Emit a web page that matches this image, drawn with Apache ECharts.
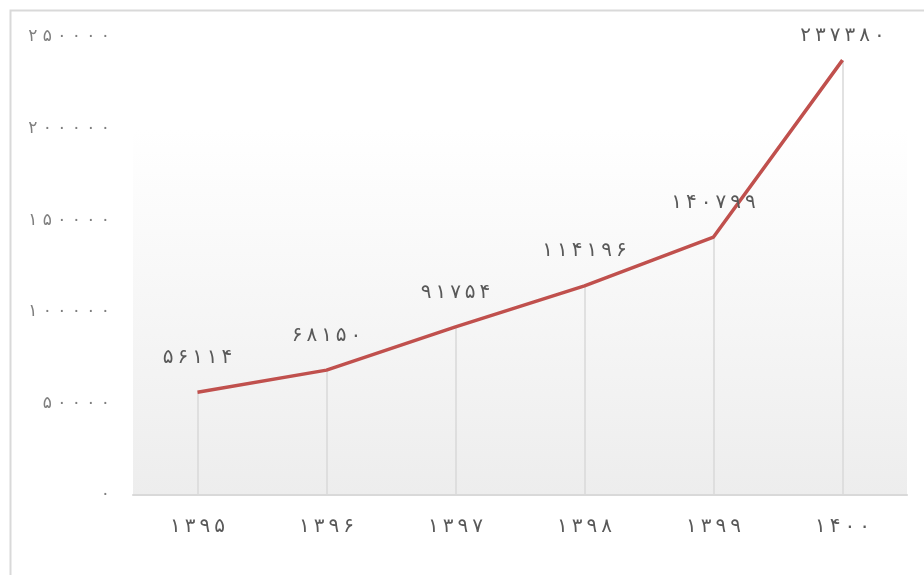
<!DOCTYPE html>
<html><head><meta charset="utf-8">
<script src="https://cdn.jsdelivr.net/npm/echarts@6/dist/echarts.min.js"></script>
<style>html,body{margin:0;padding:0;background:#fff}#c{width:924px;height:575px}</style>
</head><body><div id="c"></div>
<script>
var categories = ['۱۳۹۵','۱۳۹۶','۱۳۹۷','۱۳۹۸','۱۳۹۹','۱۴۰۰'];
var values = [56114, 68150, 91754, 114196, 140799, 237380];
var yMin = 0, yMax = 250000, yStep = 50000;

function fa(n){ return String(n).replace(/[0-9]/g, function(d){ return '۰۱۲۳۴۵۶۷۸۹'[+d]; }); }

var chart = echarts.init(document.getElementById('c'), null, {renderer:'canvas'});
var drops = values.map(function(v,i){ return [{coord:[i, v]},{coord:[i, 0]}]; });
// labels near the top of the plot are kept inside the chart frame
var seriesData = values.map(function(v){ return v > yMax * 0.9 ? {value:v, label:{distance:14}} : v; });
chart.setOption({
  animation:false,
  graphic:[{type:'polyline', shape:{points:[[10.5,575],[10.5,10.5],[924,10.5]]}, style:{stroke:'#d9d9d9', lineWidth:2, fill:null}, z:-10}],
  grid:{left:133, right:17, top:37, bottom:80, show:true, borderWidth:0,
    backgroundColor:{type:'linear', x:0, y:0, x2:0, y2:1, colorStops:[{offset:0,color:'#ffffff'},{offset:0.2,color:'#ffffff'},{offset:1,color:'#ededed'}]}},
  xAxis:{type:'category', data:categories, boundaryGap:true,
    axisLine:{lineStyle:{color:'#d9d9d9', width:2}}, axisTick:{show:false},
    axisLabel:{color:'#595959', fontSize:20, margin:22, fontFamily:'DejaVu Sans', formatter:function(v){ return v.split('').join('\u2009'); }}},
  yAxis:{type:'value', min:yMin, max:yMax, interval:yStep,
    axisLine:{show:false}, axisTick:{show:false}, splitLine:{show:false},
    axisLabel:{color:'#7f7f7f', fontSize:17, margin:23, fontFamily:'DejaVu Sans', formatter:function(v){ return fa(v).split('').join(' '); }}},
  series:[{type:'line', data:seriesData, symbol:'circle', symbolSize:1, showSymbol:true,
    itemStyle:{color:'rgba(0,0,0,0)'},
    lineStyle:{color:'#c0504d', width:3.5},
    label:{show:true, position:'top', distance:24, color:'#595959', fontSize:20, fontFamily:'DejaVu Sans', formatter:function(p){ return fa(p.value).split('').join('\u2009'); }},
    markLine:{silent:true, symbol:'none', label:{show:false}, lineStyle:{color:'#d9d9d9', width:1.5, type:'solid'}, data:drops, z:1}
  }]
});
</script></body></html>
